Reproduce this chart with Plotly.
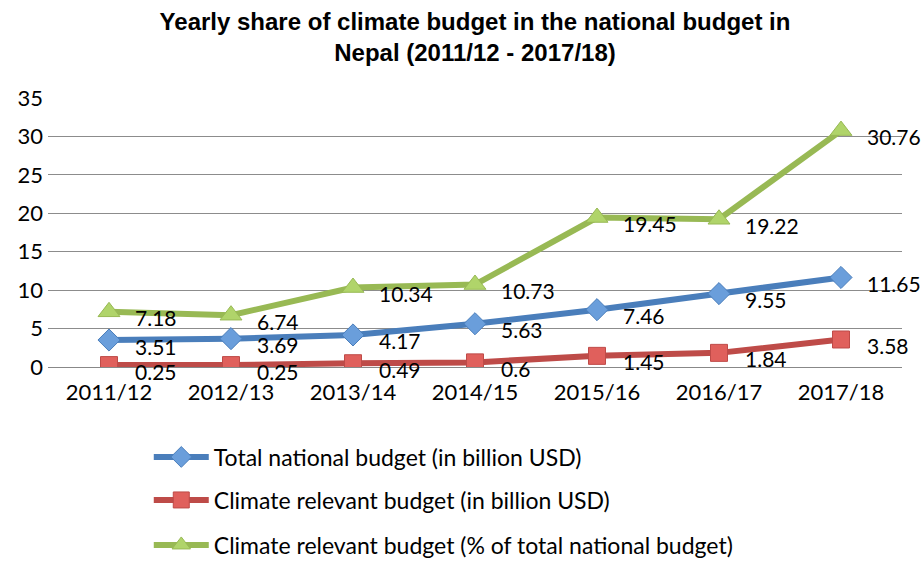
import plotly.graph_objects as go

years = ["2011/12", "2012/13", "2013/14", "2014/15", "2015/16", "2016/17", "2017/18"]
total_budget = [3.51, 3.69, 4.17, 5.63, 7.46, 9.55, 11.65]
climate_budget = [0.25, 0.25, 0.49, 0.6, 1.45, 1.84, 3.58]
climate_share = [7.18, 6.74, 10.34, 10.73, 19.45, 19.22, 30.76]
y_ticks = [0, 5, 10, 15, 20, 25, 30, 35]

FONT = "Lato"
FS = 22
series = [
    ("Total national budget (in billion USD)", total_budget, "#4a7ebb", "#6a9edb", "diamond", 17, "legend"),
    ("Climate relevant budget (in billion USD)", climate_budget, "#be4b48", "#e0605c", "square", 17, "legend2"),
    ("Climate relevant budget (% of total national budget)", climate_share, "#98b954", "#b0d46a", "triangle-up", 19, "legend3"),
]

fig = go.Figure()
annotations = []
for name, vals, lc, mc, sym, sz, lg in series:
    fig.add_trace(go.Scatter(
        x=years, y=vals, name=name, mode="lines+markers", legend=lg,
        line=dict(color=lc, width=6),
        marker=dict(symbol=sym, size=sz, color=mc, line=dict(color=lc, width=1)),
    ))
    for xv, yv in zip(years, vals):
        annotations.append(dict(
            x=xv, y=yv, text=f"{yv:g}", showarrow=False, xanchor="left", yanchor="middle",
            xshift=24, yshift=-6, font=dict(family=FONT, size=21, color="black"),
        ))

fig.update_layout(
    width=924, height=561,
    paper_bgcolor="white", plot_bgcolor="white",
    margin=dict(l=48, r=22, t=98, b=194, autoexpand=False),
    title=dict(
        text="Yearly share of climate budget in the national budget in<br>Nepal (2011/12 - 2017/18)",
        x=0.5, xanchor="center", xref="paper", yref="container", y=1 - 30 / 561, yanchor="middle",
        font=dict(family="Liberation Sans", size=24, color="black", weight="bold"),
    ),
    xaxis=dict(
        type="category", range=[-0.5, 6.5], showgrid=False, showline=True,
        linecolor="#888888", linewidth=1,
        ticks="", tickfont=dict(family=FONT, size=FS, color="black"), ticklabelstandoff=6,
    ),
    yaxis=dict(
        range=[0, 35], tickvals=y_ticks, showgrid=True, gridcolor="#8c8c8c", gridwidth=1,
        zeroline=False, showline=False, ticks="", ticklabelstandoff=4,
        tickfont=dict(family=FONT, size=FS, color="black"),
    ),
    annotations=annotations,
    showlegend=True,
)
leg_common = dict(xanchor="left", yanchor="middle", bgcolor="rgba(0,0,0,0)",
                  font=dict(family=FONT, size=23, color="black"), itemwidth=55)
fig.update_layout(
    legend=dict(x=0.118, y=(367 - 457) / 269, **leg_common),
    legend2=dict(x=0.118, y=(367 - 500) / 269, **leg_common),
    legend3=dict(x=0.118, y=(367 - 545) / 269, **leg_common),
)

fig.write_html("out.html")
